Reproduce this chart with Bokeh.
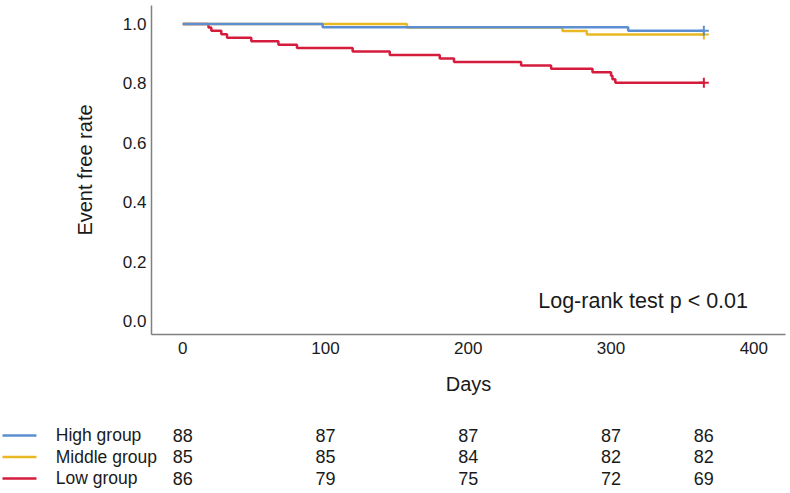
from bokeh.plotting import figure
from bokeh.models import Range1d, FixedTicker, Label, PrintfTickFormatter
from bokeh.embed import file_html
from bokeh.resources import INLINE
from bokeh.core.properties import value

# ---- data -------------------------------------------------------------
groups = ["High group", "Middle group", "Low group"]
group_sizes = [88, 85, 86]
high_events = [98, 312]
middle_events = [157, 266, 283]
low_events = [18, 20, 27, 31, 48, 67, 80, 119, 145, 180, 190,
              237, 258, 287, 300, 301, 303]
follow_up_end = 365

risk_times = [0, 100, 200, 300, 365]
high_at_risk = [88, 87, 87, 87, 86]
middle_at_risk = [85, 85, 84, 82, 82]
low_at_risk = [86, 79, 75, 72, 69]

x_ticks = [0, 100, 200, 300, 400]
y_ticks = [0.0, 0.2, 0.4, 0.6, 0.8, 1.0]
test_text = "Log-rank test p < 0.01"

# ---- styles -----------------------------------------------------------
colors = ["#5b8fd1", "#e9b924", "#d51c3c"]
FONT = "Liberation Sans"
TEXT_COLOR = "#1a1a1a"
AXIS_COLOR = "#808080"


def km_steps(n, events, end):
    """Kaplan-Meier step coordinates for a cohort without interim censoring."""
    xs, ys = [0], [1.0]
    surv, at_risk = 1.0, n
    for t in sorted(set(events)):
        d = events.count(t)
        surv *= 1 - d / at_risk
        at_risk -= d
        xs.append(t)
        ys.append(surv)
    xs.append(end)
    ys.append(surv)
    return xs, ys


event_lists = [high_events, middle_events, low_events]

# ---- survival plot ----------------------------------------------------
p = figure(width=790, height=411, output_backend="svg", toolbar_location=None,
           x_range=Range1d(-21.9, 422.2), y_range=Range1d(-0.045, 1.062),
           min_border_left=151, min_border_right=5, min_border_top=5,
           min_border_bottom=77)
p.outline_line_color = None
p.xgrid.visible = False
p.ygrid.visible = False
p.background_fill_color = "white"
p.border_fill_color = "white"

# lowest group first so the upper curves sit on top
for i in [2, 1, 0]:
    xs, ys = km_steps(group_sizes[i], event_lists[i], follow_up_end)
    p.step(xs, ys, mode="after", line_color=colors[i], line_width=2.5)
    p.scatter([xs[-1]], [ys[-1]], marker="cross", size=10,
              line_color=colors[i], line_width=2)

for ax in (p.xaxis[0], p.yaxis[0]):
    ax.axis_line_color = AXIS_COLOR
    ax.axis_line_width = 1.5
    ax.major_tick_line_color = None
    ax.minor_tick_line_color = None
    ax.major_tick_out = 0
    ax.major_tick_in = 0
    ax.major_label_text_font = FONT
    ax.major_label_text_font_size = "17px"
    ax.major_label_text_color = TEXT_COLOR
    ax.axis_label_text_font = FONT
    ax.axis_label_text_font_size = "20px"
    ax.axis_label_text_font_style = "normal"
    ax.axis_label_text_color = TEXT_COLOR

p.xaxis.ticker = FixedTicker(ticks=x_ticks)
p.yaxis.ticker = FixedTicker(ticks=y_ticks)
p.yaxis.formatter = PrintfTickFormatter(format="%.1f")
p.xaxis.axis_label = "Days"
p.yaxis.axis_label = "Event free rate"
p.xaxis.major_label_standoff = 7
p.yaxis.major_label_standoff = 5
p.xaxis.axis_label_standoff = 16
p.yaxis.axis_label_standoff = 24

p.add_layout(Label(x=249, y=0.067, text=test_text, text_font=FONT,
                   text_font_size="21.5px", text_color=TEXT_COLOR,
                   text_baseline="middle"))

# ---- numbers at risk --------------------------------------------------
# full-width strip; its day scale lines up with the plot above
KEY_X0, KEY_X1, LABEL_X = -126.3, -102.5, -89.0
t = figure(width=790, height=82, output_backend="svg", toolbar_location=None,
           x_range=Range1d(-127.7, 425.7), y_range=Range1d(2.698, -1.116),
           min_border_left=0, min_border_right=0, min_border_top=0,
           min_border_bottom=0, x_axis_location=None, y_axis_location=None)
t.outline_line_color = None
t.xgrid.visible = False
t.ygrid.visible = False
t.background_fill_color = "white"
t.border_fill_color = "white"

at_risk_rows = [high_at_risk, middle_at_risk, low_at_risk]
rows = list(range(len(groups)))
t.segment(x0=[KEY_X0] * 3, x1=[KEY_X1] * 3, y0=rows, y1=rows,
          line_color=colors, line_width=2.5)
t.text(x=[LABEL_X] * 3, y=rows, text=groups, text_font=value(FONT),
       text_font_size="17.5px", text_color=TEXT_COLOR,
       text_align="left", text_baseline="middle")
for r, counts in zip(rows, at_risk_rows):
    t.text(x=risk_times, y=[r] * len(risk_times), text=[str(c) for c in counts],
           text_font=value(FONT), text_font_size="18px", text_color=TEXT_COLOR,
           text_align="center", text_baseline="middle")

# two independent roots stacked on the page, so each keeps its own frame
open("out.html", "w").write(file_html([p, t], INLINE))
